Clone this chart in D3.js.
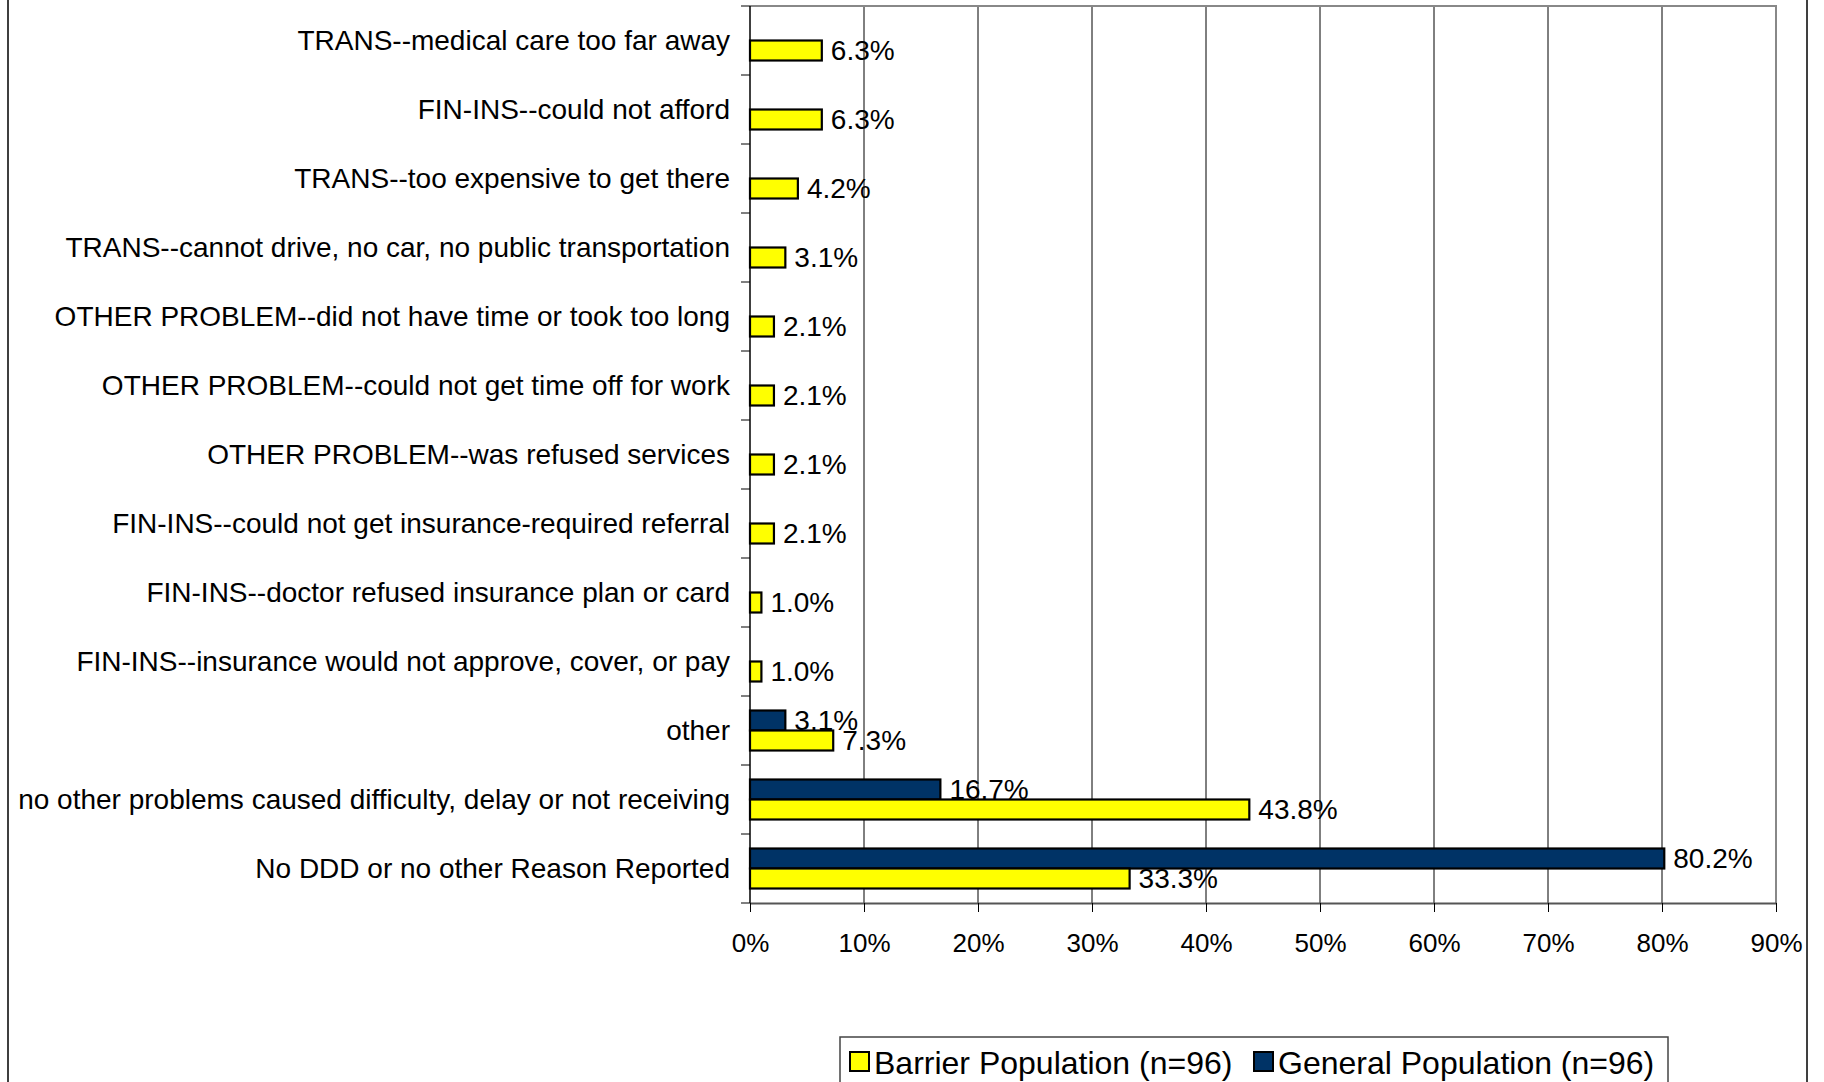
<!DOCTYPE html>
<html>
<head>
<meta charset="utf-8">
<script src="https://cdnjs.cloudflare.com/ajax/libs/d3/7.8.5/d3.min.js"></script>
<style>
  html, body { margin: 0; padding: 0; background: #fff; overflow: hidden; }
  svg { display: block; font-family: "Liberation Sans", Arial, sans-serif; }
</style>
</head>
<body>
<svg id="chart" width="1824" height="1082"></svg>
<script>
var categories = [
    "TRANS--medical care too far away",
    "FIN-INS--could not afford",
    "TRANS--too expensive to get there",
    "TRANS--cannot drive, no car, no public transportation",
    "OTHER PROBLEM--did not have time or took too long",
    "OTHER PROBLEM--could not get time off for work",
    "OTHER PROBLEM--was refused services",
    "FIN-INS--could not get insurance-required referral",
    "FIN-INS--doctor refused insurance plan or card",
    "FIN-INS--insurance would not approve, cover, or pay",
    "other",
    "no other problems caused difficulty, delay or not receiving",
    "No DDD or no other Reason Reported"
];
var barrierValues = [6.3, 6.3, 4.2, 3.1, 2.1, 2.1, 2.1, 2.1, 1.0, 1.0, 7.3, 43.8, 33.3];
var generalValues = [null, null, null, null, null, null, null, null, null, null, 3.1, 16.7, 80.2];
var seriesNames = ["Barrier Population (n=96)", "General Population (n=96)"];
var seriesColors = ["#ffff00", "#003366"];
var xTicks = [0, 10, 20, 30, 40, 50, 60, 70, 80, 90];

var svg = d3.select("#chart");
var plot = { left: 750, right: 1776, top: 6, bottom: 903 };

var x = d3.scaleLinear().domain([0, 90]).range([plot.left, plot.right]);
var y = d3.scaleBand().domain(categories).range([plot.top, plot.bottom]);
// general on top, barrier below, 20px each
var sub = d3.scaleBand().domain(["general", "barrier"]).range([-20, 20]);

//outer chart border
svg.append("rect")
    .attr("x", 8).attr("y", -10)
    .attr("width", 1799).attr("height", 1110)
    .attr("fill", "none").attr("stroke", "#000").attr("stroke-width", 1.5);

//gridlines
svg.append("g").selectAll("line")
    .data(xTicks.slice(1))
    .join("line")
    .attr("x1", function(d) { return x(d); }).attr("x2", function(d) { return x(d); })
    .attr("y1", plot.top).attr("y2", plot.bottom)
    .attr("stroke", "#000").attr("stroke-width", 1);

//plot area border (top, right)
svg.append("path")
    .attr("d", "M" + plot.left + "," + plot.top + "H" + plot.right + "V" + plot.bottom)
    .attr("fill", "none").attr("stroke", "#888").attr("stroke-width", 2);

//x axis
var xAxis = svg.append("g")
    .attr("transform", "translate(0," + plot.bottom + ")")
    .call(d3.axisBottom(x).tickValues(xTicks).tickSize(9).tickSizeOuter(0)
        .tickFormat(function(d) { return d + "%"; }));
xAxis.select(".domain").attr("stroke", "#555").attr("stroke-width", 2);
xAxis.selectAll(".tick line").attr("stroke", "#000");
xAxis.selectAll(".tick text")
    .attr("y", 49).attr("dy", 0)
    .attr("font-size", 26).attr("font-family", "'Liberation Sans', Arial, sans-serif")
    .attr("fill", "#000");

//y axis
var yAxis = svg.append("g")
    .attr("transform", "translate(" + plot.left + ",0)");
yAxis.append("line")
    .attr("x1", 0).attr("x2", 0).attr("y1", plot.top).attr("y2", plot.bottom)
    .attr("stroke", "#000").attr("stroke-width", 1.5);
yAxis.selectAll(".ytick")
    .data(categories.concat(["end"]))
    .join("line")
    .attr("class", "ytick")
    .attr("x1", -9).attr("x2", 0)
    .attr("y1", function(d, i) { return i < categories.length ? y(d) : plot.bottom; })
    .attr("y2", function(d, i) { return i < categories.length ? y(d) : plot.bottom; })
    .attr("stroke", "#000");
yAxis.selectAll(".ylabel")
    .data(categories)
    .join("text")
    .attr("class", "ylabel")
    .attr("x", -20)
    .attr("y", function(d) { return y(d) + y.bandwidth() / 2; })
    .attr("dy", "0.33em")
    .attr("text-anchor", "end")
    .attr("font-size", 28)
    .text(function(d) { return d; });

//bars
var rows = categories.map(function(c, i) {
    return { cat: c, general: generalValues[i], barrier: barrierValues[i] };
});
var barData = [];
rows.forEach(function(r) {
    if (r.general != null) barData.push({ cat: r.cat, key: "general", v: r.general, color: seriesColors[1] });
    if (r.barrier != null) barData.push({ cat: r.cat, key: "barrier", v: r.barrier, color: seriesColors[0] });
});

var bars = svg.append("g");
bars.selectAll("rect")
    .data(barData)
    .join("rect")
    .attr("x", x(0))
    .attr("y", function(d) { return y(d.cat) + y.bandwidth() / 2 + sub(d.key); })
    .attr("width", function(d) { return x(d.v) - x(0); })
    .attr("height", sub.bandwidth())
    .attr("fill", function(d) { return d.color; })
    .attr("stroke", "#000").attr("stroke-width", 2.2);

bars.selectAll("text")
    .data(barData)
    .join("text")
    .attr("x", function(d) { return x(d.v) + 9; })
    .attr("y", function(d) { return y(d.cat) + y.bandwidth() / 2 + sub(d.key) + sub.bandwidth() / 2; })
    .attr("dy", "0.35em")
    .attr("font-size", 28)
    .text(function(d) { return d.v.toFixed(1) + "%"; });

//legend
var legend = svg.append("g");
legend.append("rect")
    .attr("x", 840).attr("y", 1037)
    .attr("width", 828).attr("height", 80)
    .attr("fill", "#fff").attr("stroke", "#444").attr("stroke-width", 1.5);
var legendX = [850, 1254];
var items = legend.selectAll(".item")
    .data(seriesNames)
    .join("g")
    .attr("class", "item")
    .attr("transform", function(d, i) { return "translate(" + legendX[i] + ",1052)"; });
items.append("rect")
    .attr("width", 19).attr("height", 19)
    .attr("fill", function(d, i) { return seriesColors[i]; })
    .attr("stroke", "#000").attr("stroke-width", 2);
items.append("text")
    .attr("x", 24).attr("y", 10)
    .attr("dy", "0.36em")
    .attr("font-size", 32)
    .text(function(d) { return d; });
</script>
</body>
</html>
